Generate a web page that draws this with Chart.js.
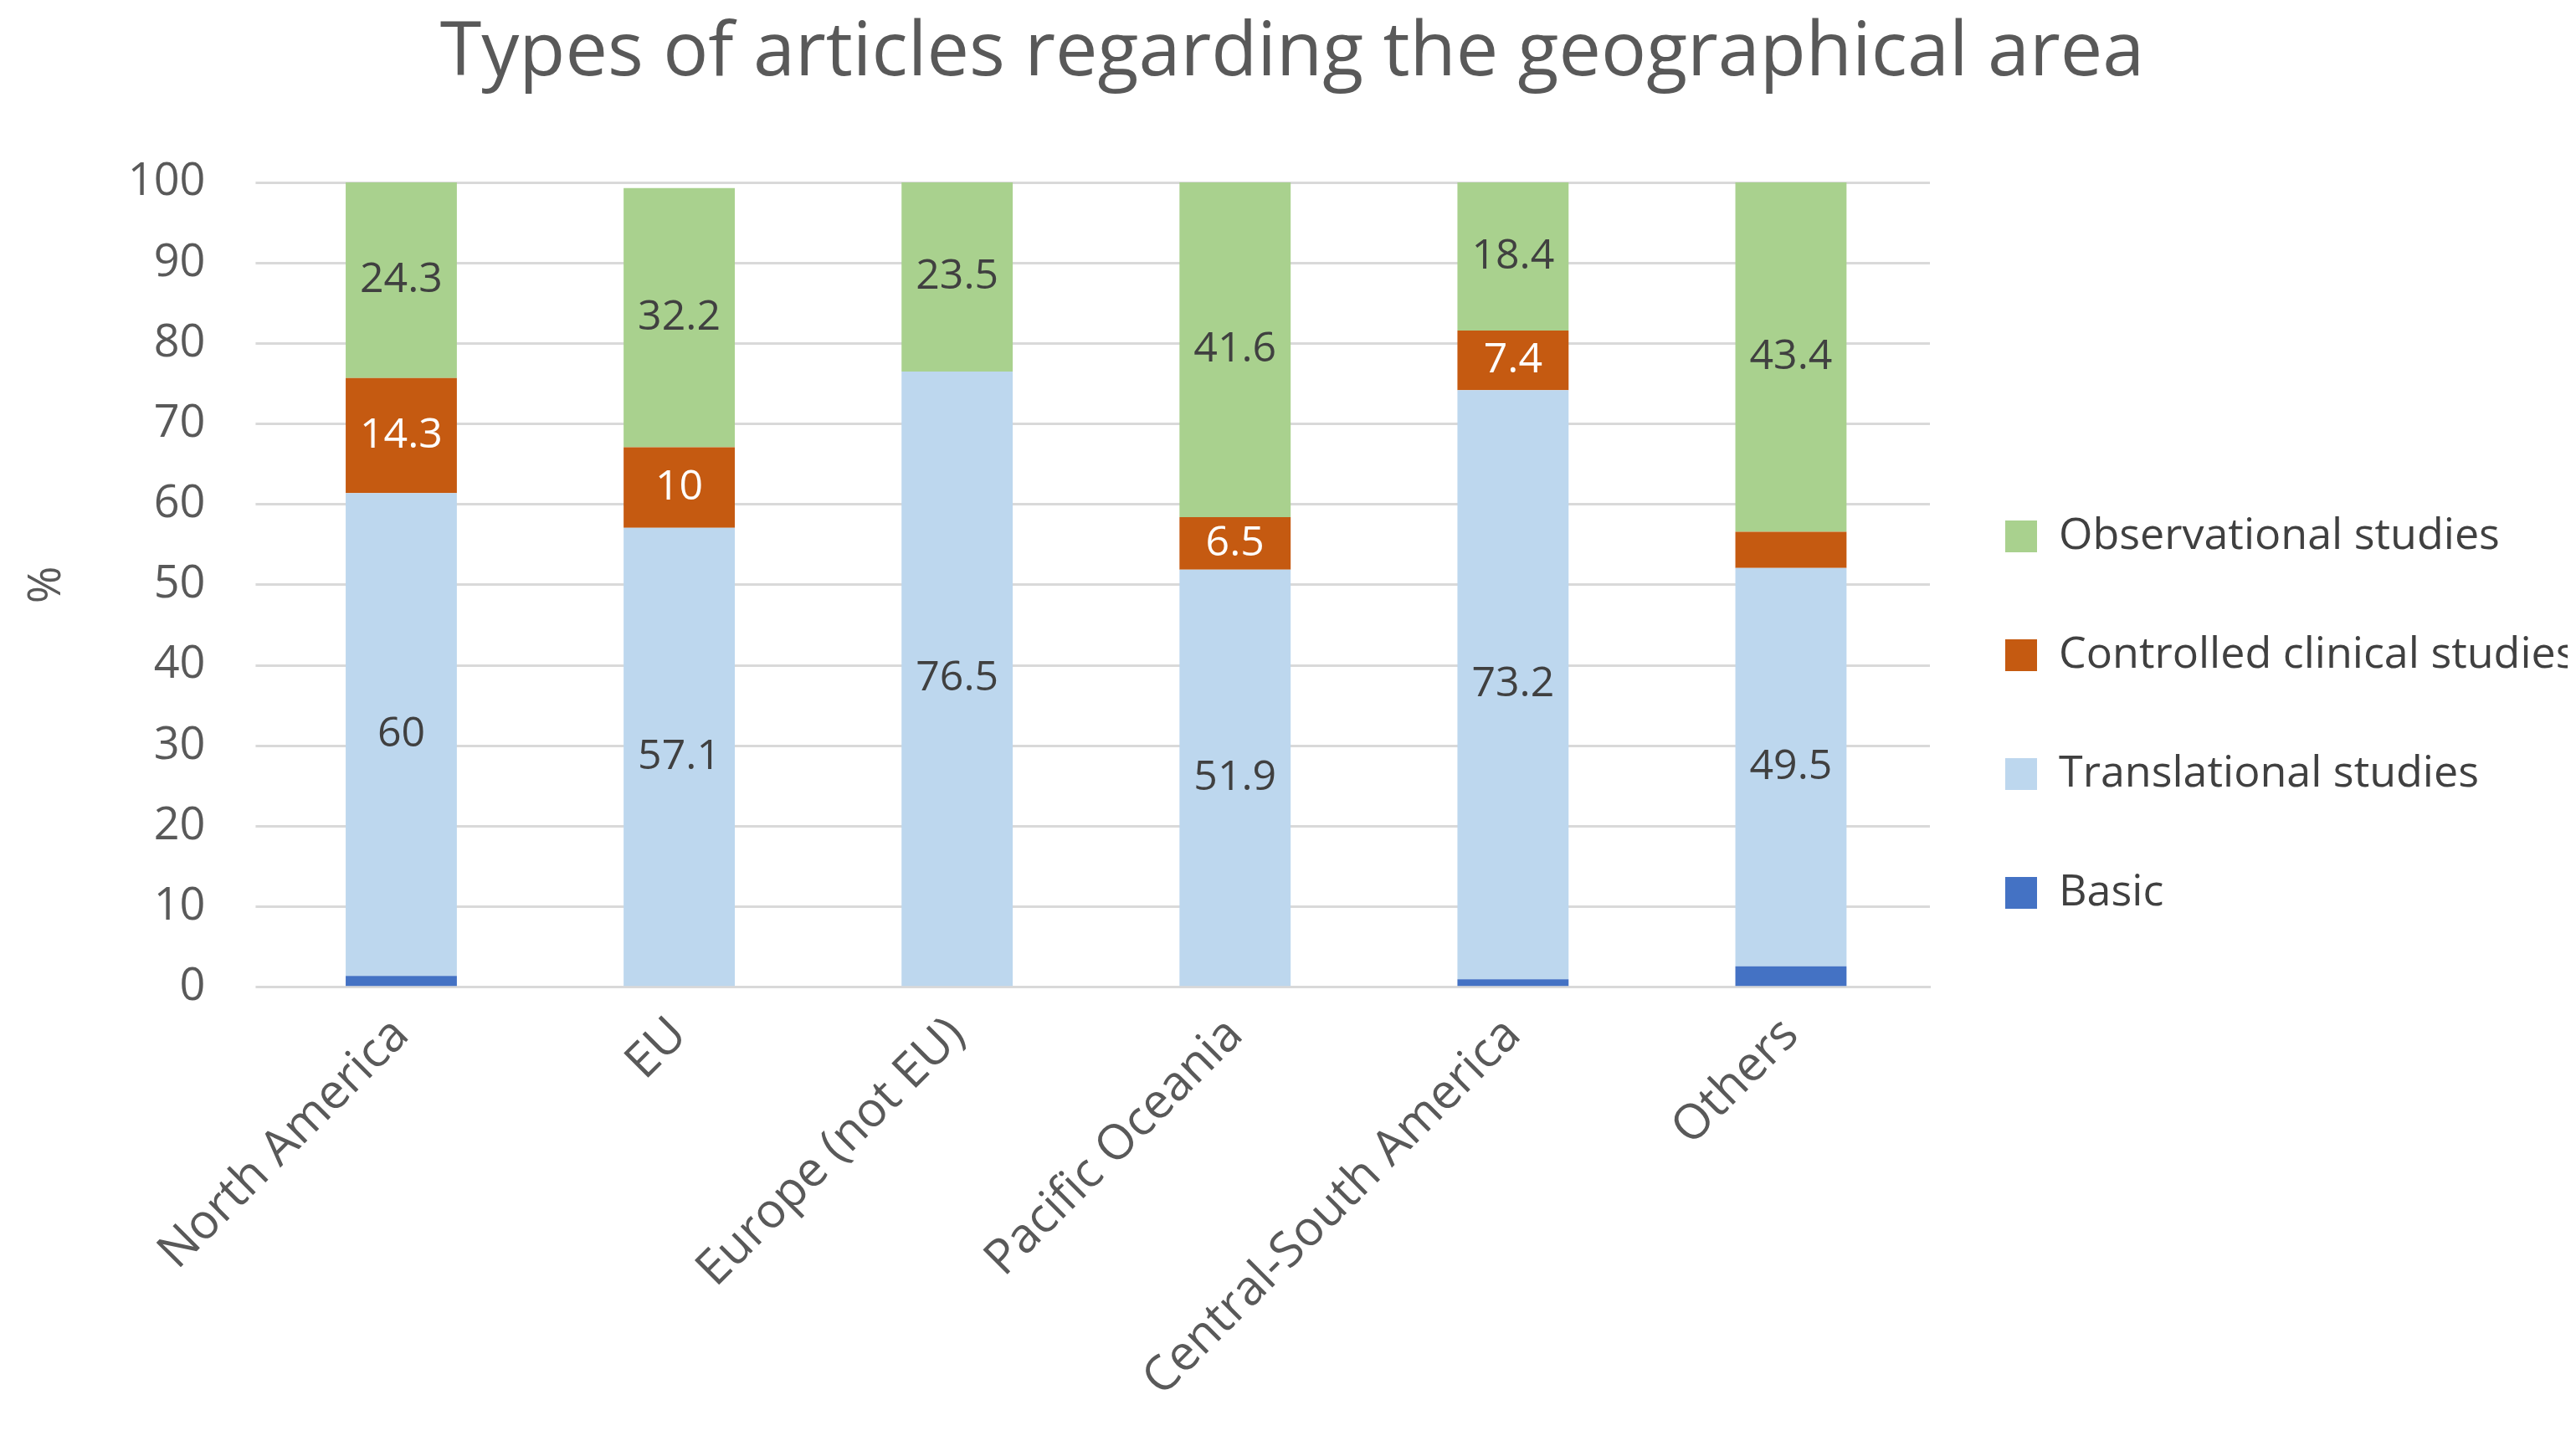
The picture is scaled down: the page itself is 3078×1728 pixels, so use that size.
<!DOCTYPE html>
<html><head><meta charset="utf-8">
<script src="https://cdn.jsdelivr.net/npm/chart.js@4"></script>
<style>html,body{margin:0;padding:0;background:#fff}#w{width:3078px;height:1728px}</style>
</head><body><div id="w"><canvas id="c"></canvas></div>
<script>
const categories=["North America","EU","Europe (not EU)","Pacific Oceania","Central-South America","Others"];
const basic=[1.4,0,0,0,1,2.6];
const translational=[60,57.1,76.5,51.9,73.2,49.5];
const controlled=[14.3,10,0,6.5,7.4,4.5];
const observational=[24.3,32.2,23.5,41.6,18.4,43.4];
const yTicks=[0,10,20,30,40,50,60,70,80,90,100];
const labelled={1:[true,true,true,true,true,true],2:[true,true,false,true,true,false],3:[true,true,true,true,true,true]};
const FONT='"Open Sans", sans-serif';
const labelPlugin={id:'lbl',afterDatasetsDraw(chart){
  const ctx=chart.ctx;ctx.save();ctx.font='50px '+FONT;ctx.textAlign='center';ctx.textBaseline='middle';
  chart.data.datasets.forEach((ds,i)=>{
    if(!labelled[i])return;
    chart.getDatasetMeta(i).data.forEach((el,j)=>{
      if(!labelled[i][j]||!ds.data[j])return;
      ctx.fillStyle=i===2?'#ffffff':'#404040';
      ctx.fillText(String(ds.data[j]),el.x,(el.y+el.base)/2);
    });
  });ctx.restore();}};
new Chart(document.getElementById('c'),{
  type:'bar',
  data:{labels:categories,datasets:[
    {label:'Basic',data:basic,backgroundColor:'#4472c4'},
    {label:'Translational studies',data:translational,backgroundColor:'#bdd7ee'},
    {label:'Controlled clinical studies',data:controlled,backgroundColor:'#c55a11'},
    {label:'Observational studies',data:observational,backgroundColor:'#a9d18e'}]},
  options:{responsive:true,maintainAspectRatio:false,animation:false,
    layout:{padding:{left:20,right:10,top:10,bottom:30}},
    datasets:{bar:{categoryPercentage:1,barPercentage:0.4}},
    plugins:{
      title:{display:true,text:'Types of articles regarding the geographical area',color:'#595959',font:{family:FONT,size:90,weight:'normal'},padding:{top:0,bottom:100}},
      legend:{position:'right',reverse:true,labels:{color:'#404040',font:{family:FONT,size:52},boxWidth:38,boxHeight:38,padding:90}},
      tooltip:{enabled:false}},
    scales:{
      x:{stacked:true,grid:{display:false},border:{color:'#d9d9d9',width:3},
        ticks:{color:'#595959',font:{family:FONT,size:58},maxRotation:45,minRotation:45,padding:15}},
      y:{stacked:true,min:0,max:100,afterBuildTicks(a){a.ticks=yTicks.map(v=>({value:v}));},
        grid:{color:'#d9d9d9',lineWidth:3},border:{display:false},
        ticks:{color:'#595959',font:{family:FONT,size:54},padding:60},
        title:{display:true,text:'%',color:'#595959',font:{family:FONT,size:54}}}}},
  plugins:[labelPlugin]});
</script></body></html>
